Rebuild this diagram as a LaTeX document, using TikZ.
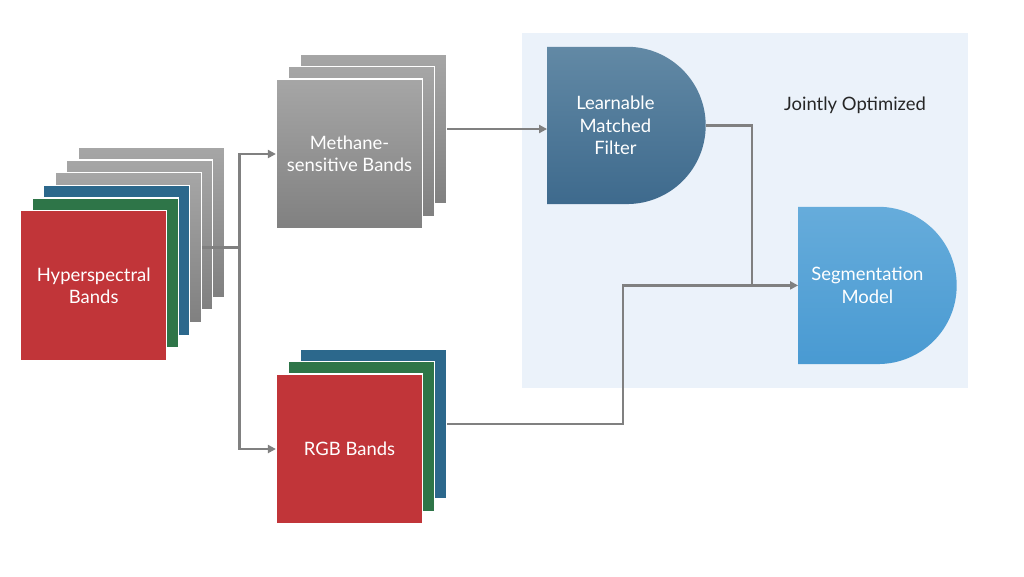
\documentclass[tikz,border=0pt]{standalone}
\usepackage{fontspec}
\setmainfont{Lato}
\usetikzlibrary{arrows.meta, backgrounds, positioning}

\definecolor{bandred}{RGB}{193,53,57}
\definecolor{bandgreen}{RGB}{46,117,72}
\definecolor{bandblue}{RGB}{44,104,140}
\definecolor{graytop}{RGB}{166,166,166}
\definecolor{graybot}{RGB}{128,128,128}
\definecolor{panelblue}{RGB}{235,242,250}
\definecolor{filtertop}{RGB}{98,137,165}
\definecolor{filterbot}{RGB}{62,106,141}
\definecolor{segtop}{RGB}{102,172,219}
\definecolor{segbot}{RGB}{73,154,210}
\definecolor{linegray}{RGB}{128,128,128}

\begin{document}
\begin{tikzpicture}[x=0.02cm, y=-0.02cm,
    band/.style={draw=white, line width=0.7pt, minimum width=2.92cm, minimum height=3cm,
        inner sep=0pt, text=white, align=center, font=\fontsize{10.5}{12.6}\selectfont},
    redlayer/.style={fill=bandred},
    greenlayer/.style={fill=bandgreen},
    bluelayer/.style={fill=bandblue},
    graylayer/.style={top color=graytop, bottom color=graybot},
    model/.style={minimum width=3.174cm, minimum height=3.146cm, inner sep=0pt, outer sep=0pt},
    modeltext/.style={text=white, align=center, font=\fontsize{10.5}{12.8}\selectfont},
    link/.style={draw=linegray, line width=1.5pt},
    tip/.style={link, -{Triangle[length=4.5pt, width=4.5pt]}}]
    \useasboundingbox (0,0) rectangle (1024,576);

    % hyperspectral stack
    \foreach \i/\c in {5/graylayer, 4/graylayer, 3/graylayer, 2/bluelayer, 1/greenlayer}
        \node[band, \c] at (93.7+11.5*\i, 285.7-12.7*\i) (hs\i) {};
    \node[band, redlayer] at (93.7, 285.7) (hs0) {Hyperspectral\\Bands};

    % methane-sensitive stack
    \foreach \i in {2,1}
        \node[band, graylayer] at (349.5+12*\i, 154-12.5*\i) (mb\i) {};
    \node[band, graylayer] at (349.5, 154) (mb0) {Methane-\\sensitive Bands};

    % rgb stack
    \node[band, bluelayer] at (373.5, 424) (rgb2) {};
    \node[band, greenlayer] at (361.5, 436.5) (rgb1) {};
    \node[band, redlayer] at (349.5, 449) (rgb0) {RGB Bands};

    % jointly optimized part
    \node[model, label={[modeltext, xshift=-0.22cm]center:Learnable\\Matched\\Filter}] at (626.4, 125.4) (filter) {};
    \node[model, label={[modeltext, xshift=-0.2cm]center:Segmentation\\Model}] at (877.4, 285.4) (seg) {};
    \node[text=black!85, font=\fontsize{10.5}{12.6}\selectfont] at (855, 105) (joint) {Jointly Optimized};

    \begin{scope}[on background layer]
        \fill[panelblue] (522,33) rectangle (968,388);
        \shade[top color=filtertop, bottom color=filterbot] (filter.north west) -- ++(80,0)
            arc[start angle=90, end angle=-90, radius=1.573cm] -- (filter.south west) -- cycle;
        \shade[top color=segtop, bottom color=segbot] (seg.north west) -- ++(80,0)
            arc[start angle=90, end angle=-90, radius=1.573cm] -- (seg.south west) -- cycle;
    \end{scope}

    % connectors
    \draw[link] (hs3.east) -- ++(38,0) coordinate (split);
    \draw[tip] (split) |- (mb0.west);
    \draw[tip] (split) |- (rgb0.west);
    \draw[tip] (mb2.east) -- (mb2.east -| filter.west);
    \draw[link] (filter.east) -| ([xshift=-0.92cm]seg.west);
    \draw[tip] (rgb2.east) -- ++(176,0) |- (seg.west);
\end{tikzpicture}
\end{document}
